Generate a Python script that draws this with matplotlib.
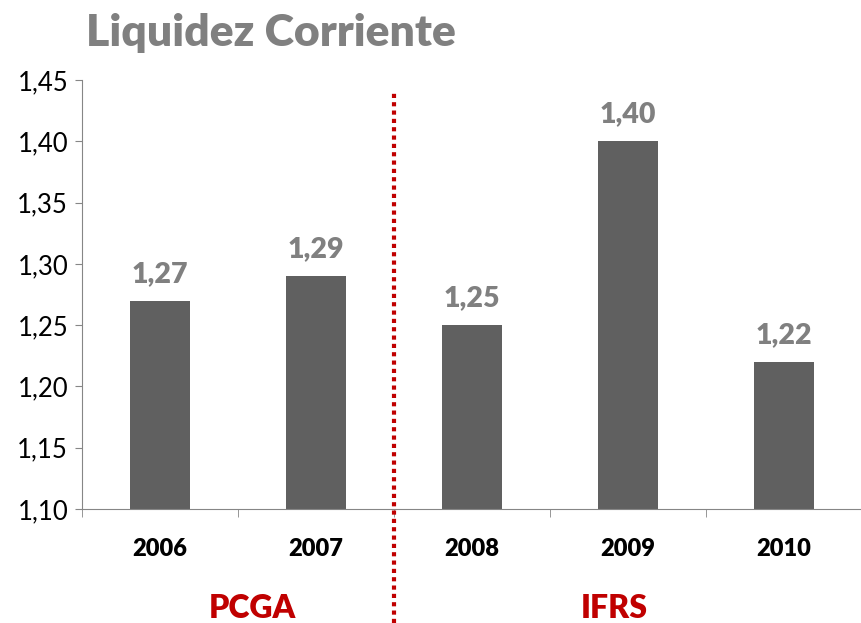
import matplotlib
matplotlib.use('Agg')
import matplotlib.pyplot as plt
import matplotlib.transforms as mtransforms

# Data
years = ['2006', '2007', '2008', '2009', '2010']
liquidez = [1.27, 1.29, 1.25, 1.40, 1.22]
yticks = [1.10, 1.15, 1.20, 1.25, 1.30, 1.35, 1.40, 1.45]
groups = ['PCGA', 'IFRS']

plt.rcParams['font.family'] = ['Lato', 'DejaVu Sans']

fig = plt.figure(figsize=(8.62, 6.23), dpi=100)
ax = fig.add_axes([82 / 862, 114 / 623, 780 / 862, 429 / 623])

x = list(range(len(years)))
ax.bar(x, [v - 1.10 for v in liquidez], bottom=1.10, width=0.39, color='#606060')

for xi, v in zip(x, liquidez):
    ax.annotate(f'{v:.2f}'.replace('.', ','), (xi, v), xytext=(0, 10),
                textcoords='offset points', ha='center', va='bottom',
                fontsize=20.5, fontweight='heavy', color='#808080')

ax.set_xlim(-0.5, 4.5)
ax.set_ylim(1.10, 1.45)
ax.set_yticks(yticks)
ax.set_yticklabels([f'{t:.2f}'.replace('.', ',') for t in yticks], fontsize=18.5)
ax.tick_params(axis='y', direction='out', length=5, color='#868686', pad=5)

ax.set_xticks(x)
ax.set_xticklabels(years, fontsize=17, fontweight='heavy')
ax.tick_params(axis='x', which='major', length=0, pad=21)
ax.set_xticks([i - 0.5 for i in range(len(years) + 1)], minor=True)
ax.tick_params(axis='x', which='minor', direction='out', length=6, color='#868686')

for side in ['top', 'right']:
    ax.spines[side].set_visible(False)
for side in ['left', 'bottom']:
    ax.spines[side].set_color('#868686')

# separator between accounting standards
trans = mtransforms.blended_transform_factory(ax.transData, fig.transFigure)
ax.plot([1.5, 1.5], [0, 530 / 623], transform=trans, color='#C00000',
        linewidth=3, linestyle=(0, (1, 1)), dash_capstyle='butt', clip_on=False)

ax.text(0.59, 15 / 623, groups[0], transform=trans, ha='center', va='center',
        fontsize=23, fontweight='heavy', color='#C00000')
ax.text(2.91, 15 / 623, groups[1], transform=trans, ha='center', va='center',
        fontsize=23, fontweight='heavy', color='#C00000')

fig.text(271 / 862, 590 / 623, 'Liquidez Corriente', ha='center', va='center',
         fontsize=32, fontweight='heavy', color='#808080')

fig.savefig('out.png', dpi=100)
